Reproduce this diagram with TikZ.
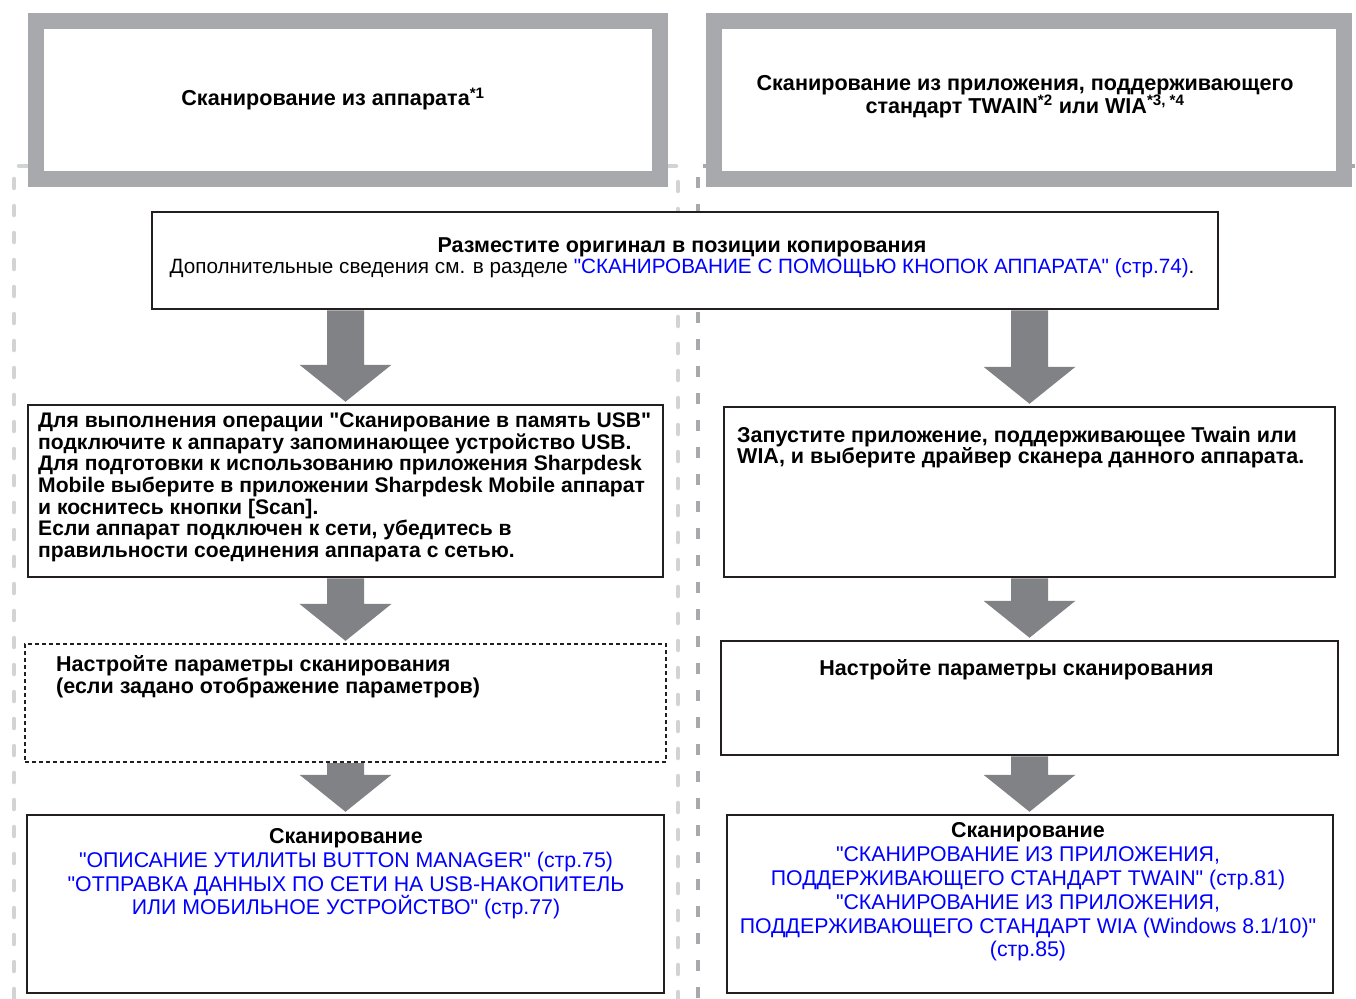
\documentclass[tikz,border=0pt]{standalone}
\usepackage{fontspec}
\setmainfont{Liberation Sans}[Ligatures=TeXOff]
\usetikzlibrary{calc}
\definecolor{titlegrey}{RGB}{167,169,172}
\definecolor{arrowgrey}{RGB}{128,130,133}
\definecolor{dashlight}{RGB}{209,211,212}
\definecolor{boxline}{RGB}{35,31,32}
\definecolor{linkblue}{RGB}{0,0,255}
\newcommand\blockarrow[3]{%
  \fill[arrowgrey] ($(#1.south -| #3)+(-18.5,0)$) -- ($(#1.south -| #3)+(18.5,0)$)
    -- ($(#2.north -| #3)+(18.5,-39)$) -- ($(#2.north -| #3)+(46,-39)$)
    -- ($(#2.north -| #3)+(0,-2)$)
    -- ($(#2.north -| #3)+(-46,-39)$) -- ($(#2.north -| #3)+(-18.5,-39)$) -- cycle;}
\begin{document}
\begin{tikzpicture}[x=1pt,y=-1pt,
  titlebox/.style={draw=titlegrey, line width=16pt, fill=white, inner sep=0pt, outer sep=0pt},
  stepbox/.style={draw=boxline, line width=2.5pt, fill=white, inner sep=0pt},
  dashbox/.style={stepbox, line width=2.2pt, dash pattern=on 4pt off 3pt},
  txtbase/.style={inner sep=0pt, anchor=north},
  ttl/.style={txtbase, font=\fontsize{21.6}{23.3}\selectfont\bfseries, align=center},
  tx/.style={txtbase, font=\fontsize{20.7}{21.6}\selectfont},
  txb/.style={txtbase, font=\fontsize{21.5}{21.6}\selectfont\bfseries},
  txl/.style={txtbase, font=\fontsize{21.3}{23.8}\selectfont, align=center},
]
\lineskiplimit=-100pt\relax
\useasboundingbox (0,0) rectangle (1356,998);
\fill[white] (0,0) rectangle (1356,998);
% column frames
\draw[dashlight, line width=4.5pt, line cap=round, dash pattern=on 9pt off 18pt]
  (14,998) -- (14,166) -- (678,166) -- (678,998);
\draw[titlegrey, line width=4pt, dash pattern=on 11pt off 16pt]
  (698,998) -- (698,166) -- (1355,166);
% title boxes
\node[titlebox, minimum width=624pt, minimum height=158pt] (tl) at (348,100) {};
\node[titlebox, minimum width=630pt, minimum height=158pt] (tr) at (1029,100) {};
\node[ttl] (tlt) at (333,87.7) {\strut Сканирование из аппарата\textsuperscript{*1}};
\node[ttl] (trt) at (1025,73.7) {\strut Сканирование из приложения, поддерживающего\\
  стандарт TWAIN\textsuperscript{*2} или WIA\textsuperscript{*3, *4}};
% step boxes
\node[stepbox, minimum width=1066pt, minimum height=97pt] (top) at (685,260.5) {};
\node[stepbox, minimum width=635pt, minimum height=172pt] (l2) at (345.5,491) {};
\node[stepbox, minimum width=611pt, minimum height=170pt] (r2) at (1029.5,492) {};
\node[dashbox, minimum width=641pt, minimum height=118pt] (l3) at (345.5,703) {};
\node[stepbox, minimum width=617pt, minimum height=114pt] (r3) at (1029.5,698) {};
\node[stepbox, minimum width=637pt, minimum height=178pt] (l4) at (345.5,904) {};
\node[stepbox, minimum width=606pt, minimum height=178pt] (r4) at (1030,904) {};
% texts
\node[tx, align=center] (topt) at (682,236.9) {\strut{\fontsize{21.5}{21.6}\selectfont\bfseries Разместите оригинал в позиции копирования}\\
  Дополнительные сведения см. в разделе {\color{linkblue}"СКАНИРОВАНИЕ С ПОМОЩЬЮ КНОПОК АППАРАТА" (стр.74)}.};
\node[txb, align=left, anchor=north west, font=\fontsize{21.1}{21.6}\selectfont\bfseries] (l2t) at (38,412.4) {\strut Для выполнения операции "Сканирование в память USB"\\
  подключите к аппарату запоминающее устройство USB.\\
  Для подготовки к использованию приложения Sharpdesk\\
  Mobile выберите в приложении Sharpdesk Mobile аппарат\\
  и коснитесь кнопки [Scan].\\
  Если аппарат подключен к сети, убедитесь в\\
  правильности соединения аппарата с сетью.};
\node[txb, align=left, anchor=north west] (r2t) at (737,426.4) {\strut Запустите приложение, поддерживающее Twain или\\
  WIA, и выберите драйвер сканера данного аппарата.};
\node[txb, align=left, anchor=north west] (l3t) at (56,655.6) {\strut Настройте параметры сканирования\\
  (если задано отображение параметров)};
\node[txb] (r3t) at (1016.5,658.9) {\strut Настройте параметры сканирования};
\node[txl] (l4t) at (346,826.6) {\strut{\fontsize{21.5}{23.8}\selectfont\bfseries Сканирование}\\
  \color{linkblue}"ОПИСАНИЕ УТИЛИТЫ BUTTON MANAGER" (стр.75)\\
  \color{linkblue}"ОТПРАВКА ДАННЫХ ПО СЕТИ НА USB-НАКОПИТЕЛЬ\\
  \color{linkblue}ИЛИ МОБИЛЬНОЕ УСТРОЙСТВО" (стр.77)};
\node[txl] (r4t) at (1028,821.0) {\strut{\fontsize{21.5}{23.8}\selectfont\bfseries Сканирование}\\
  \color{linkblue}"СКАНИРОВАНИЕ ИЗ ПРИЛОЖЕНИЯ,\\
  \color{linkblue}ПОДДЕРЖИВАЮЩЕГО СТАНДАРТ TWAIN" (стр.81)\\
  \color{linkblue}"СКАНИРОВАНИЕ ИЗ ПРИЛОЖЕНИЯ,\\
  \color{linkblue}ПОДДЕРЖИВАЮЩЕГО СТАНДАРТ WIA (Windows 8.1/10)"\\
  \color{linkblue}(стр.85)};
% arrow columns
\coordinate (lx) at (345.5,0);
\coordinate (rx) at (1029.5,0);
\blockarrow{top}{l2}{lx}
\blockarrow{l2}{l3}{lx}
\blockarrow{l3}{l4}{lx}
\blockarrow{top}{r2}{rx}
\blockarrow{r2}{r3}{rx}
\blockarrow{r3}{r4}{rx}
\end{tikzpicture}
\end{document}
